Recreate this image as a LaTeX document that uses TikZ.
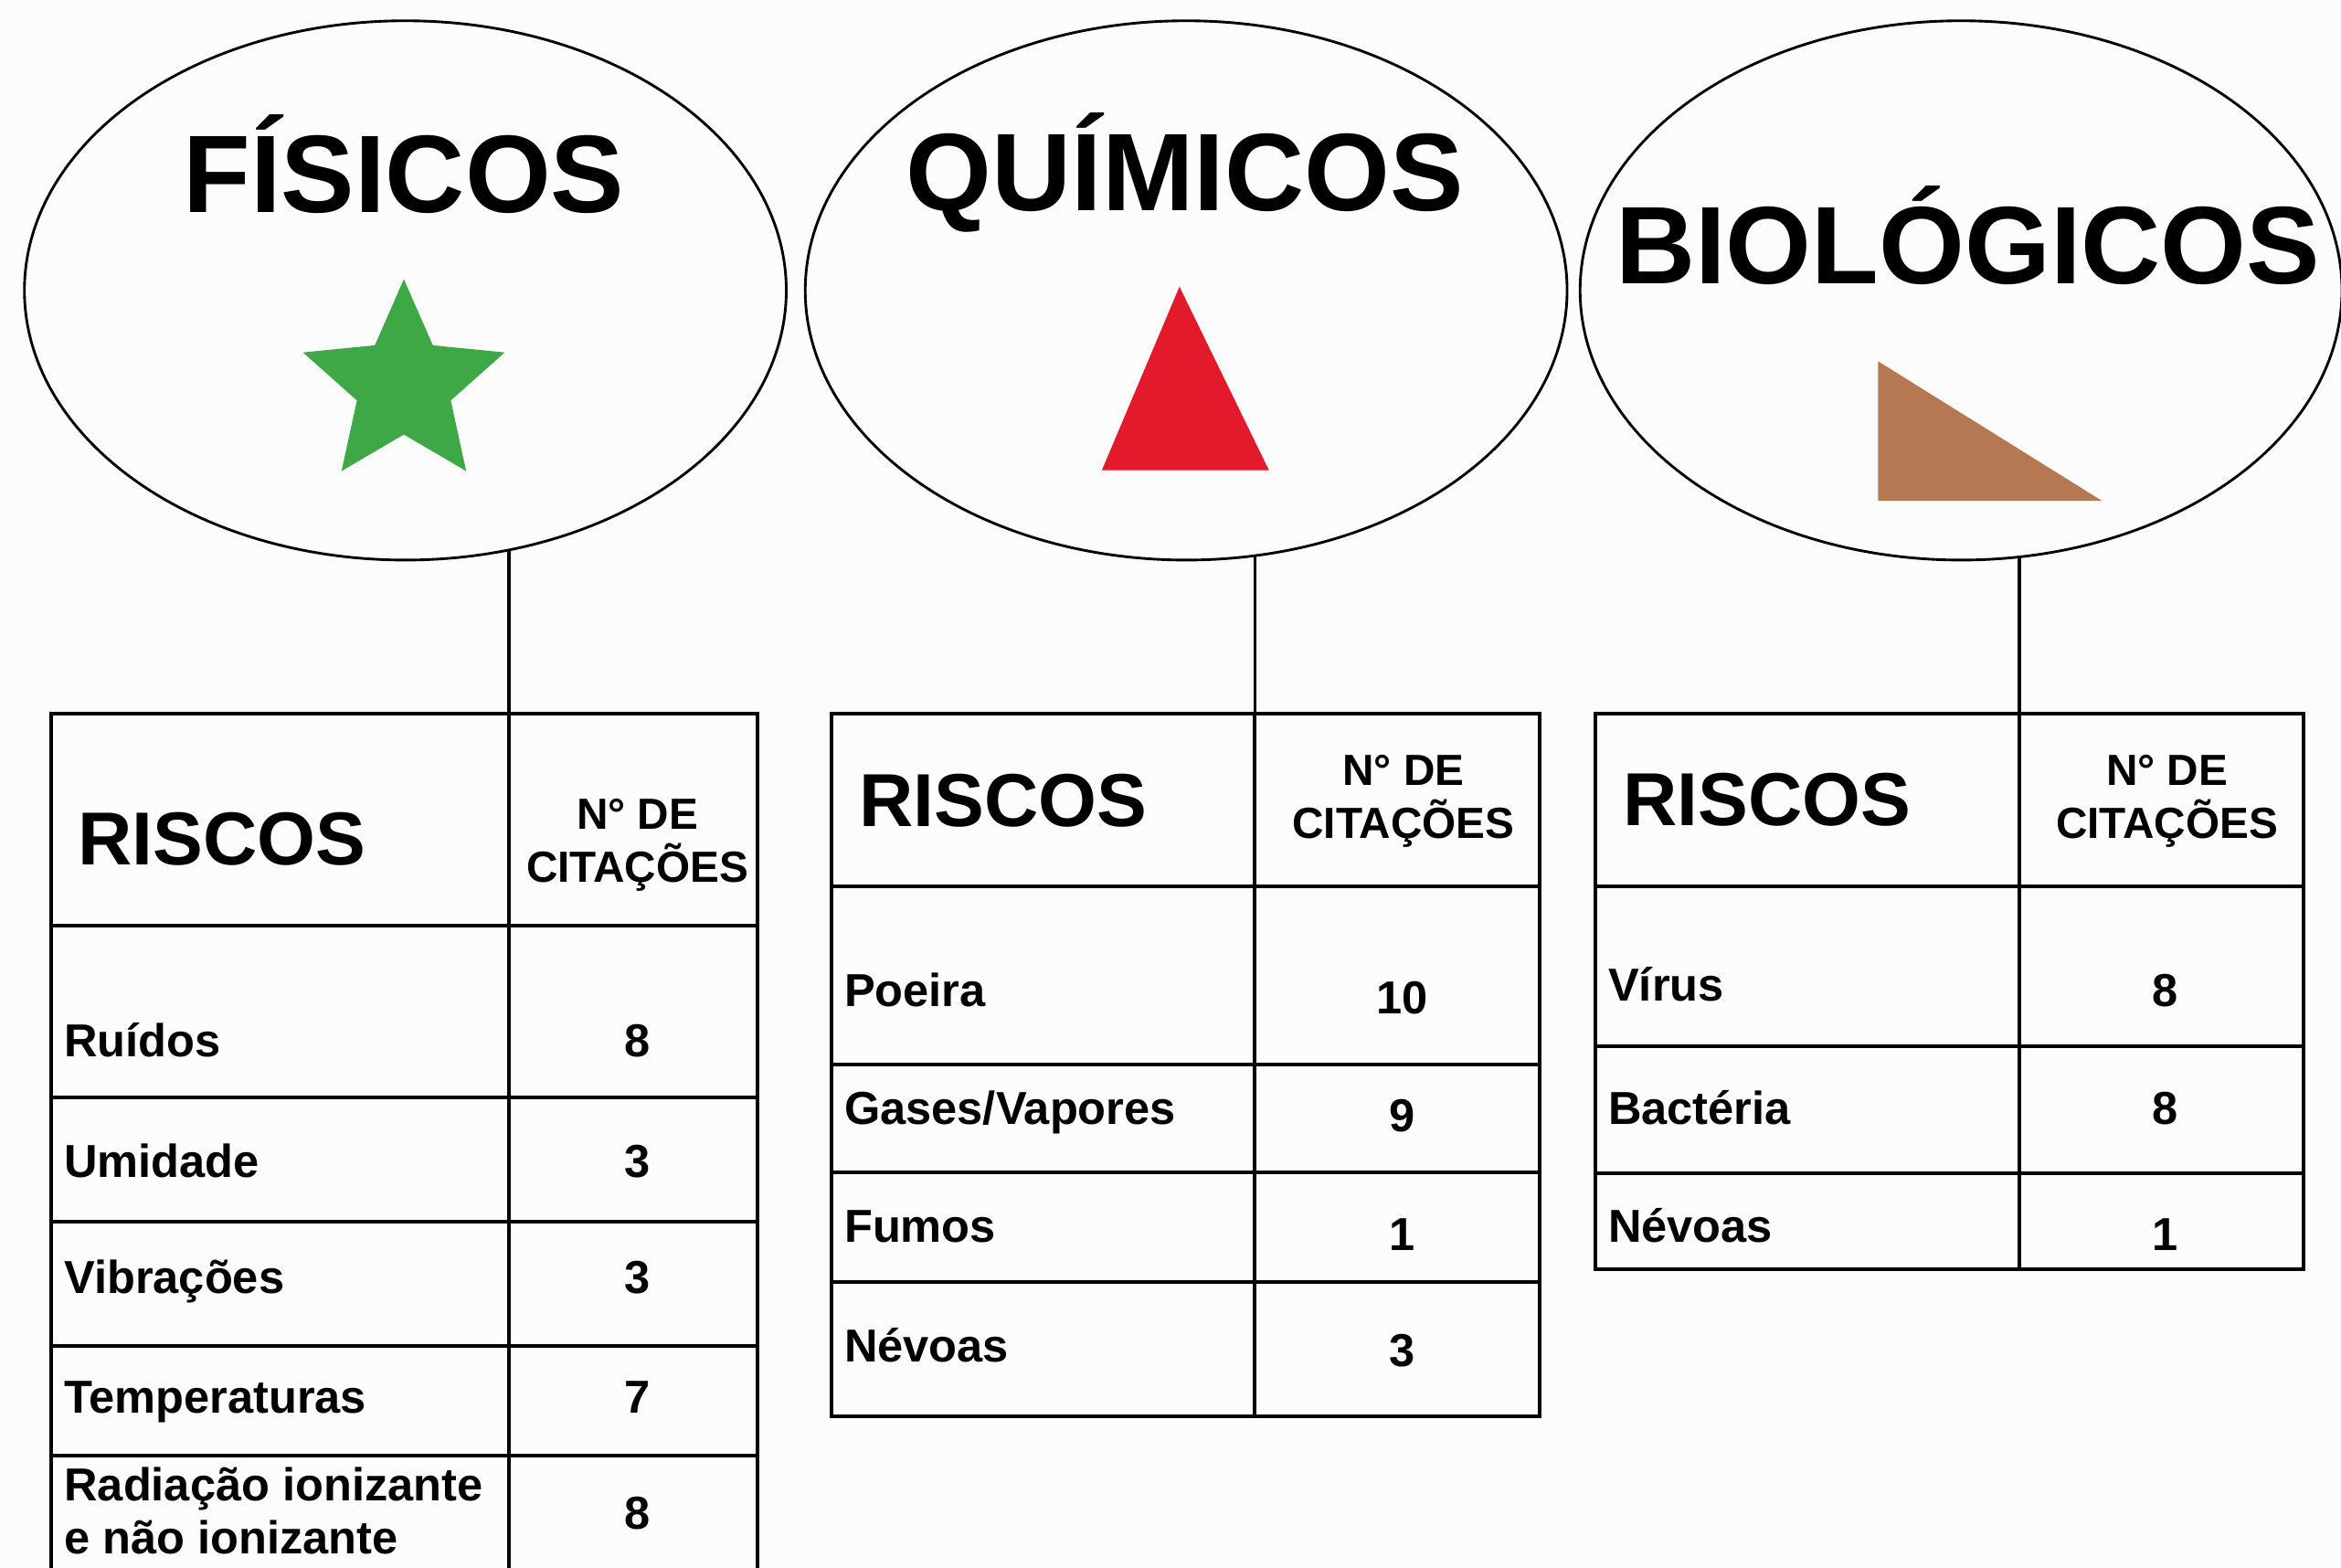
\documentclass[tikz,border=0pt]{standalone}
\usepackage{fontspec}
\setmainfont{Liberation Sans}
\usetikzlibrary{shapes.geometric}
\definecolor{fisgreen}{RGB}{62,168,70}
\definecolor{quired}{RGB}{226,26,44}
\definecolor{biobrown}{RGB}{181,120,82}
\definecolor{paper}{RGB}{252,252,252}
\begin{document}
\begin{tikzpicture}[x=0.01cm,y=-0.01cm,
  grupo/.style={draw,ellipse,line width=0.5pt,minimum width=5.1cm,minimum height=3.61cm,inner sep=0pt},
  titulo/.style={anchor=base,inner sep=0pt,font=\bfseries\fontsize{21}{25}\selectfont},
  riscos/.style={anchor=base west,inner sep=0pt,font=\bfseries\fontsize{14.3}{17}\selectfont},
  cit/.style={inner sep=0pt,align=center,font=\bfseries\fontsize{8.3}{10}\selectfont},
  item/.style={anchor=base west,inner sep=0pt,align=left,font=\bfseries\fontsize{8.8}{10.2}\selectfont},
  num/.style={anchor=base,inner sep=0pt,font=\bfseries\fontsize{8.8}{10.2}\selectfont},
  tab/.style={line width=0.7pt},
  lig/.style={line width=0.6pt}]
\useasboundingbox (0,0) rectangle (1568,1050);
\clip (0,0) rectangle (1568,1050);
\fill[paper] (0,0) rectangle (1568,1050);

% grupos de risco
\node[grupo] (fis) at (271.5,194.5) {};
\node[grupo] (qui) at (794.5,194.5) {};
\node[grupo] (bio) at (1313.5,194.5) {};
\node[titulo] (fist) at (270.5,142) {FÍSICOS};
\node[titulo] (quit) at (793.5,141) {QUÍMICOS};
\node[titulo] (biot) at (1318,190) {BIOLÓGICOS};
\node[star,star points=5,star point ratio=2.15,minimum size=1.42cm,inner sep=0pt,fill=fisgreen] (fiss) at (270.5,258) {};
\fill[quired] (790,192) -- (850,315) -- (738,315) -- cycle;
\fill[biobrown] (1258,242) -- (1408,335.5) -- (1258,335.5) -- cycle;

% tabela fisicos
\draw[tab] (34,478) rectangle (507.5,1070);
\draw[tab] (341,478) -- (341,1070);
\foreach \y in {620,735,818,901.5,975} \draw[tab] (34,\y) -- (507.5,\y);
\node[riscos] (fish) at (51.4,579.5) {RISCOS};
\node[cit] (fisc) at (427,566) {N° DE\\CITAÇÕES};
\foreach \t/\m/\r/\v [count=\i] in {708/708/Ruídos/8, 788.6/788.6/Umidade/3, 866.6/866.6/Vibrações/3, 946.7/946.7/Temperaturas/7}{
  \node[item] (fisr\i) at (42.4,\t) {\r};
  \node[num] (fisn\i) at (427,\m) {\v};
}
\node[item,anchor=west] (fisr5) at (42.4,1012) {Radiação ionizante\\e não ionizante};
\node[num] (fisn5) at (427,1024.5) {8};
\coordinate (fisj) at (341,478);
\draw[lig] (fisj) -- (fisj |- fis.-68);

% tabela quimicos
\draw[tab] (557,478) rectangle (1031,948.6);
\draw[tab] (840.6,478) -- (840.6,948.6);
\foreach \y in {593.4,712.8,785.5,858.5} \draw[tab] (557,\y) -- (1031,\y);
\node[riscos] (quih) at (575,553.4) {RISCOS};
\node[cit] (quic) at (940,536.5) {N° DE\\CITAÇÕES};
\foreach \t/\m/\r/\v [count=\i] in {674/679/Poeira/10, 752.8/758/{Gases/Vapores}/9, 832/837.6/Fumos/1, 912/915/Névoas/3}{
  \node[item] (quir\i) at (564.9,\t) {\r};
  \node[num] (quin\i) at (939,\m) {\v};
}
\coordinate (quij) at (840.6,478);
\draw[lig] (quij) -- (quij |- qui.-75.3);

% tabela biologicos
\draw[tab] (1068.5,478) rectangle (1543,850);
\draw[tab] (1352.7,478) -- (1352.7,850);
\foreach \y in {593.4,701,785.6} \draw[tab] (1068.5,\y) -- (1543,\y);
\node[riscos] (bioh) at (1086.3,553) {RISCOS};
\node[cit] (bioc) at (1451.5,536.5) {N° DE\\CITAÇÕES};
\foreach \t/\m/\r/\v [count=\i] in {670.7/674/Vírus/8, 753/753/Bactéria/8, 832/837.6/Névoas/1}{
  \node[item] (bior\i) at (1076.6,\t) {\r};
  \node[num] (bion\i) at (1450,\m) {\v};
}
\coordinate (bioj) at (1352.7,478);
\draw[lig] (bioj) -- (bioj |- bio.-77.6);
\end{tikzpicture}
\end{document}
